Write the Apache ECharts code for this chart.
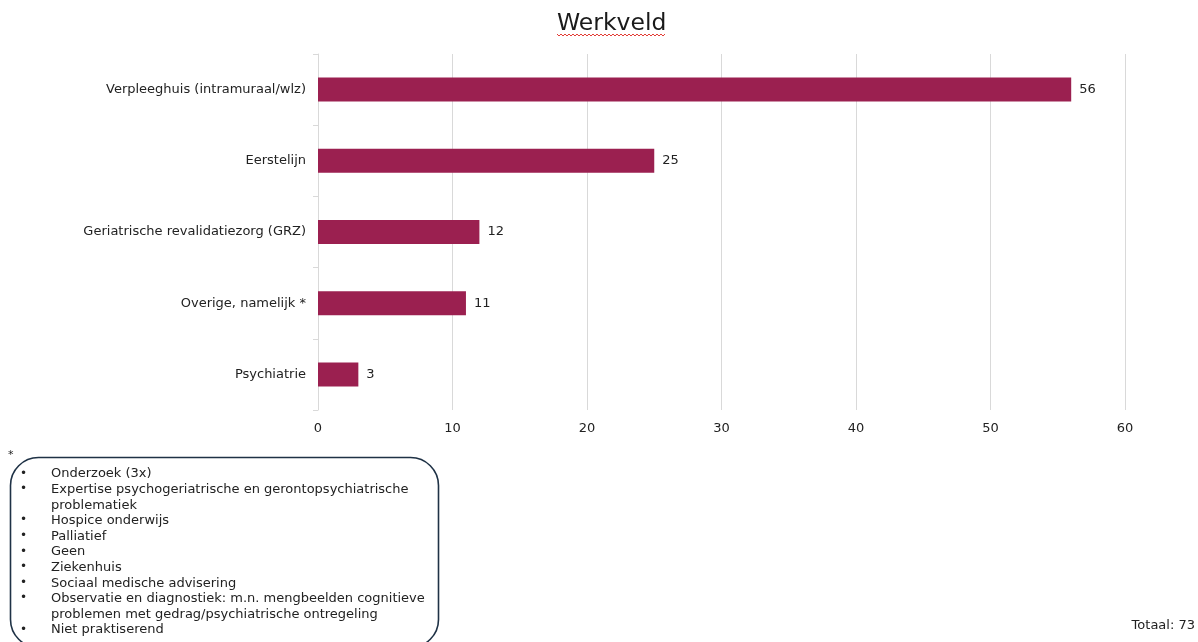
<!DOCTYPE html>
<html><head><meta charset="utf-8">
<script src="https://cdn.jsdelivr.net/npm/echarts@6/dist/echarts.min.js"></script>
<style>html,body{margin:0;padding:0;background:#fff}#c{width:1198px;height:642px}</style>
</head><body><div id="c"></div>
<script>
const categories = ["Verpleeghuis (intramuraal/wlz)", "Eerstelijn", "Geriatrische revalidatiezorg (GRZ)", "Overige, namelijk *", "Psychiatrie"];
const values = [56, 25, 12, 11, 3];
const xTicks = [0, 10, 20, 30, 40, 50, 60];
const noteItems = [
  ["Onderzoek (3x)"],
  ["Expertise psychogeriatrische en gerontopsychiatrische", "problematiek"],
  ["Hospice onderwijs"],
  ["Palliatief"],
  ["Geen"],
  ["Ziekenhuis"],
  ["Sociaal medische advisering"],
  ["Observatie en diagnostiek: m.n. mengbeelden cognitieve", "problemen met gedrag/psychiatrische ontregeling"],
  ["Niet praktiserend"]
];
const totalText = "Totaal: 73";

const FONT = "DejaVu Sans";
const FS = 13;
const graphics = [];
// note box
graphics.push({type:'rect', shape:{x:10.5, y:457.5, width:428, height:190, r:28}, style:{fill:'none', stroke:'#1f3246', lineWidth:1.6}});
graphics.push({type:'text', left:8, top:450, style:{text:'*', font:'11px '+FONT, fill:'#222'}});
let line = 0;
const y0 = 467.5, lh = 15.6;
noteItems.forEach(item => {
  graphics.push({type:'text', x:20, y:y0 + line*lh, style:{text:'•', font:'12px '+FONT, fill:'#222'}});
  item.forEach(t => {
    graphics.push({type:'text', x:51, y:y0 + line*lh, style:{text:t, font:FS+'px '+FONT, fill:'#222'}});
    line++;
  });
});
graphics.push({type:'text', right:3, top:619, style:{text:totalText, font:FS+'px '+FONT, fill:'#222'}});
// spell-check squiggle under title
const pts = [];
for (let x = 557, i = 0; x <= 666; x += 2, i++) pts.push([x, 34 + (i % 2 ? 2 : 0)]);
graphics.push({type:'polyline', shape:{points:pts}, style:{stroke:'#e33b35', lineWidth:1, fill:null}});

const chart = echarts.init(document.getElementById('c'));
chart.setOption({
  animation:false,
  title:{text:'Werkveld', left:552, top:7, textStyle:{fontFamily:FONT, fontSize:23.5, fontWeight:'normal', color:'#1a1a1a'}},
  grid:{left:318, right:73, top:54, bottom:232},
  xAxis:{type:'value', min:0, max:60, interval:10,
    axisLine:{show:false}, axisTick:{show:false},
    splitLine:{lineStyle:{color:'#d9d9d9', width:1}},
    axisLabel:{fontFamily:FONT, fontSize:FS, color:'#222', margin:12,
      formatter:v => xTicks.includes(v) ? String(v) : ''}},
  yAxis:{type:'category', inverse:true, data:categories,
    axisLine:{lineStyle:{color:'#d9d9d9'}},
    axisTick:{show:true, length:5, lineStyle:{color:'#d9d9d9'}},
    axisLabel:{fontFamily:FONT, fontSize:FS, color:'#222', margin:12}},
  series:[{type:'bar', data:values, barWidth:24, itemStyle:{color:'#9b2050'},
    label:{show:true, position:'right', distance:8, fontFamily:FONT, fontSize:FS, color:'#222'}}],
  graphic:graphics
});
</script></body></html>
